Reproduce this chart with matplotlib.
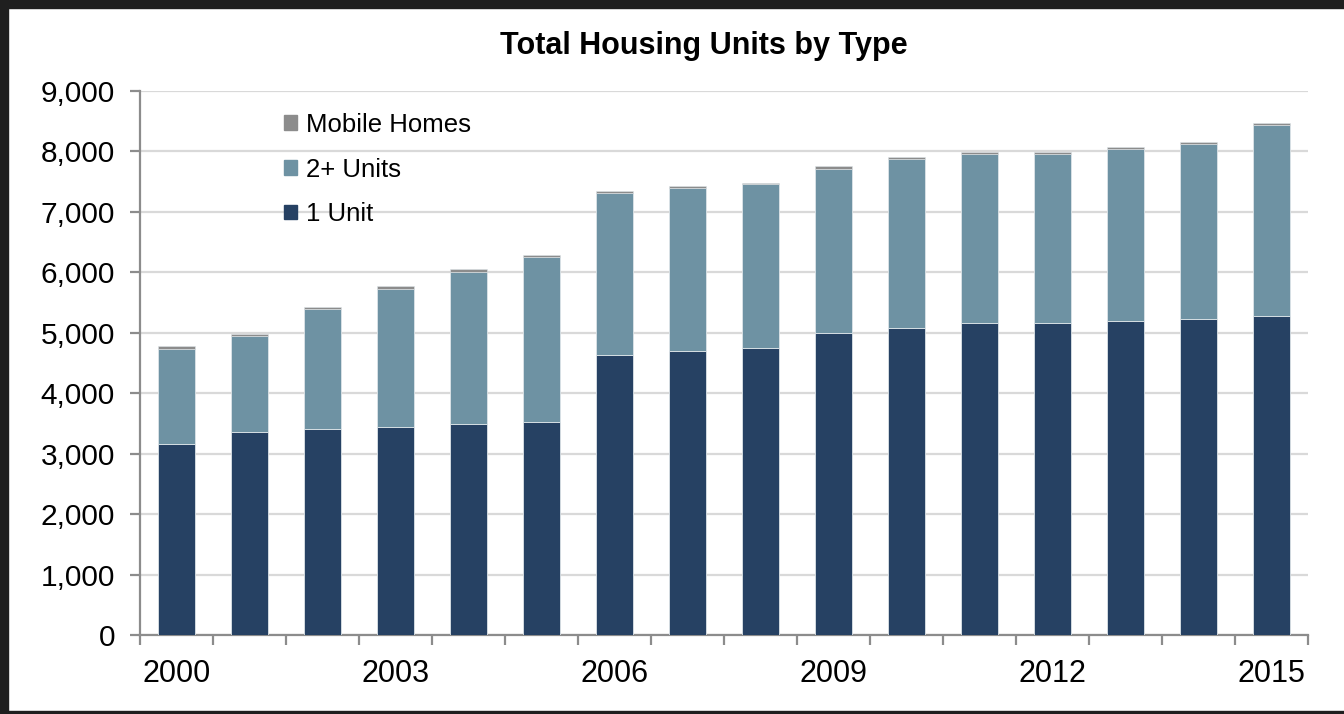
import matplotlib
matplotlib.use("Agg")
import matplotlib.pyplot as plt
import numpy as np
from matplotlib.patches import Rectangle, Patch
from matplotlib.ticker import FuncFormatter, FixedLocator

years = list(range(2000, 2016))
one_unit = [3156, 3361, 3400, 3444, 3489, 3528, 4630, 4704, 4746, 4994, 5072, 5155, 5155, 5193, 5232, 5276]
two_plus = [1583, 1583, 1989, 2284, 2521, 2722, 2681, 2689, 2713, 2722, 2808, 2801, 2801, 2845, 2883, 3161]
mobile = [40, 40, 45, 45, 38, 38, 36, 36, 22, 36, 36, 36, 36, 36, 36, 36]
labels = ["1 Unit", "2+ Units", "Mobile Homes"]
label_years = [2000, 2003, 2006, 2009, 2012, 2015]
yticks = list(range(0, 9001, 1000))

c_one = "#264163"
c_two = "#6e92a3"
c_mob = "#8c8c8c"

plt.rcParams['font.family'] = ['Liberation Sans', 'DejaVu Sans']

fig = plt.figure(figsize=(13.44, 7.14), dpi=100)
ax = fig.add_axes([140/1344, 1-635/714, 1168/1344, 544/714])

x = np.arange(len(years))
w = 0.51
ec = "#dde4e8"
ax.bar(x, one_unit, w, color=c_one, edgecolor=ec, linewidth=0.6, zorder=3)
b2 = np.array(one_unit)
ax.bar(x, two_plus, w, bottom=b2, color=c_two, edgecolor=ec, linewidth=0.6, zorder=3)
b3 = b2 + np.array(two_plus)
ax.bar(x, mobile, w, bottom=b3, color=c_mob, edgecolor=ec, linewidth=0.4, zorder=3)

ax.set_xlim(-0.5, len(years) - 0.5)
ax.set_ylim(0, 9000)
ax.set_yticks(yticks)
ax.yaxis.set_major_formatter(FuncFormatter(lambda v, p: f"{int(v):,}"))
ax.grid(axis='y', color='#d9d9d9', linewidth=1.6, zorder=0)
ax.set_axisbelow(True)

ax.set_xticks([years.index(y) for y in label_years])
ax.set_xticklabels([str(y) for y in label_years])
ax.xaxis.set_minor_locator(FixedLocator(np.arange(-0.5, len(years), 1.0)))
ax.tick_params(axis='x', which='major', length=0, pad=17, labelsize=22)
ax.tick_params(axis='x', which='minor', length=7, width=1.6, color='#8c8c8c', direction='out')
ax.tick_params(axis='y', which='major', length=7, width=1.6, color='#8c8c8c', pad=11, labelsize=21.5)

for s in ['top', 'right']:
    ax.spines[s].set_visible(False)
for s in ['left', 'bottom']:
    ax.spines[s].set_color('#8c8c8c')
    ax.spines[s].set_linewidth(1.6)

handles = [Patch(color=c_mob), Patch(color=c_two), Patch(color=c_one)]
fig.legend(handles, labels[::-1], loc='upper left', bbox_to_anchor=(284/1344, 1-113/714),
           frameon=False, fontsize=18.5, handlelength=0.52, handleheight=0.52,
           handletextpad=0.33, labelspacing=0.8, borderpad=0, borderaxespad=0)

fig.text(704/1344, 1-46/714, "Total Housing Units by Type", ha='center', va='center',
         fontsize=22, fontweight='bold', family=['Liberation Sans Narrow', 'Liberation Sans', 'DejaVu Sans'])

bc = "#1f1f1f"
fig.patches.append(Rectangle((0, 1-8/714), 1, 8/714, transform=fig.transFigure, color=bc, zorder=10))
fig.patches.append(Rectangle((0, 0), 8/1344, 1, transform=fig.transFigure, color=bc, zorder=10))
fig.patches.append(Rectangle((0, 0), 1, 3/714, transform=fig.transFigure, color=bc, zorder=10))

fig.savefig("out.png", dpi=100)
